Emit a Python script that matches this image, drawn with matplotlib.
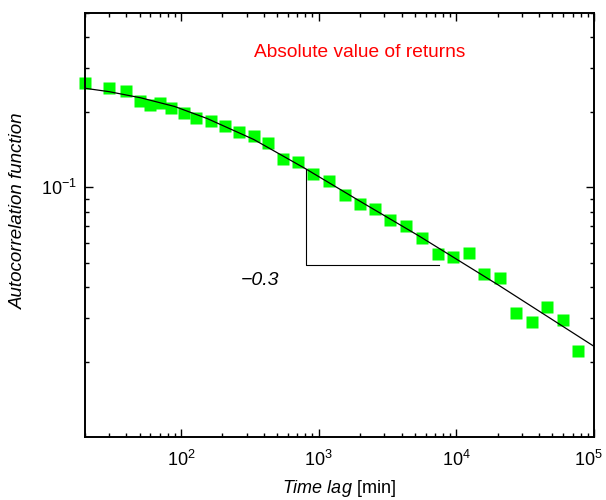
#!/usr/bin/env python3
"""Autocorrelation of absolute returns vs. time lag, log-log, with fitted curve."""

import matplotlib
matplotlib.use("Agg")
import matplotlib.pyplot as plt
import matplotlib.transforms as mtransforms
from matplotlib.ticker import FixedLocator, LogLocator, NullFormatter, LogFormatterMathtext

plt.rcParams["font.family"] = ["Liberation Sans", "DejaVu Sans"]
plt.rcParams["mathtext.fontset"] = "custom"
plt.rcParams["mathtext.rm"] = "Liberation Sans"
plt.rcParams["mathtext.it"] = "Liberation Sans:italic"

# ------------------------------------------------------------------ data
# measured autocorrelation of |returns|
lag_min = [20, 30, 40, 50, 60, 70, 84, 105, 129, 164, 208, 262, 338, 427,
           551, 708, 916, 1181, 1542, 1991, 2575, 3324, 4345, 5675, 7317,
           9510, 12350, 16030, 20940, 27230, 35390, 45920, 59620, 76870]
acf = [0.262, 0.251, 0.243, 0.222, 0.213, 0.217, 0.208, 0.199, 0.189,
       0.185, 0.176, 0.167, 0.160, 0.150, 0.130, 0.126, 0.113, 0.106,
       0.0935, 0.0860, 0.0818, 0.0739, 0.0702, 0.0627, 0.0543, 0.0525,
       0.0547, 0.0452, 0.0434, 0.0315, 0.0289, 0.0331, 0.0295, 0.0222]

# fitted curve, sampled
fit_lag = [20, 30, 51, 90, 155, 338, 802, 2000, 5310, 20140, 100000]
fit_acf = [0.2497, 0.2420, 0.2286, 0.2110, 0.1888, 0.1556, 0.1189,
           0.0880, 0.0641, 0.0407, 0.0231]

# slope guide triangle (-0.3)
tri_lag = [815, 815, 7500]
tri_acf = [0.1185, 0.0491, 0.0491]

# ------------------------------------------------------------------ plot
fig = plt.figure(figsize=(6.06, 5.0), dpi=100)
ax = fig.add_axes([0.140, 0.126, 0.840, 0.848])

ax.plot(lag_min, acf, ls="none", marker="s", ms=8, mfc="#00ff00",
        mec="none", zorder=2, clip_on=False)
ax.plot(fit_lag, fit_acf, color="black", lw=0.9, zorder=3)
ax.plot(tri_lag, tri_acf, color="black", lw=0.8, zorder=3)

ax.set_xscale("log")
ax.set_yscale("log")
ax.set_xlim(20, 1e5)
ax.set_ylim(0.01, 0.5)

ax.xaxis.set_major_locator(FixedLocator([1e2, 1e3, 1e4, 1e5]))
ax.xaxis.set_major_formatter(LogFormatterMathtext())
ax.xaxis.set_minor_locator(LogLocator(base=10, subs=range(2, 10), numticks=20))
ax.xaxis.set_minor_formatter(NullFormatter())
ax.yaxis.set_major_locator(FixedLocator([0.1]))
ax.yaxis.set_major_formatter(LogFormatterMathtext())
ax.yaxis.set_minor_locator(LogLocator(base=10, subs=range(2, 10), numticks=20))
ax.yaxis.set_minor_formatter(NullFormatter())

ax.tick_params(which="both", direction="in", top=True, right=True,
               width=1.0, labelsize=13)
ax.tick_params(which="major", length=5.5)
ax.tick_params(which="minor", length=3)
ax.tick_params(axis="x", pad=9)
ax.tick_params(axis="y", pad=6)
for sp in ax.spines.values():
    sp.set_linewidth(1.4)

# nudge the 10^5 label left so it stays inside the figure
fig.canvas.draw()
last = ax.get_xticklabels()[-1]
last.set_transform(last.get_transform() +
                   mtransforms.ScaledTranslation(-6 / 100, 0, fig.dpi_scale_trans))

ax.set_xlabel(r"$\mathit{Time\ lag}$ [min]", fontsize=13, labelpad=6)
ax.set_ylabel("Autocorrelation function", fontsize=13.5, style="italic")
ax.yaxis.set_label_coords(-0.114, 0.533)

ax.text(0.54, 0.906, "Absolute value of returns", color="red", fontsize=13.8,
        ha="center", va="center", transform=ax.transAxes)
ax.text(375, 0.0424, "\u22120.3", fontsize=14, style="italic",
        ha="center", va="center")

fig.savefig("out.png", dpi=100)
